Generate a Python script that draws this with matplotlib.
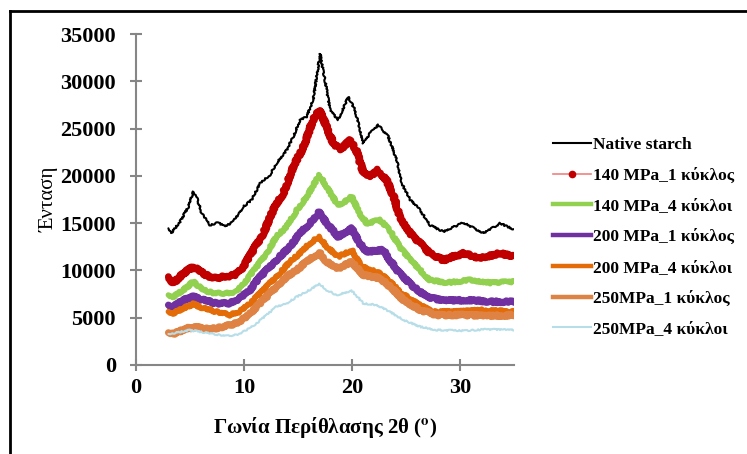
import matplotlib
matplotlib.use("Agg")
import matplotlib.pyplot as plt
from matplotlib.lines import Line2D

plt.rcParams['font.family'] = ['Liberation Serif', 'DejaVu Serif']
plt.rcParams['mathtext.fontset'] = 'stix'

labels = ["Native starch", "140 MPa_1 κύκλος", "140 MPa_4 κύκλοι", "200 MPa_1 κύκλος",
          "200 MPa_4 κύκλοι", "250MPa_1 κύκλος", "250MPa_4 κύκλοι"]

native_x = [3.0, 3.3, 4.07, 4.85, 5.3, 5.6, 6.08, 6.85, 7.6, 8.24, 9.0, 9.94, 10.7, 11.5, 12.4, 13.0,
            13.95, 14.56, 15.19, 15.8, 16.4, 17.04, 17.5, 17.96, 18.7, 19.66, 20.28, 21.05, 21.67,
            22.44, 23.36, 24.14, 24.6, 25.4, 26.3, 27.2, 28.45, 30.3, 32.2, 33.7, 35.0]
native_y = [14455, 13990, 15150, 16740, 18330, 17800, 16040, 14800, 15050, 14630, 15150, 16740, 17450,
            19210, 20090, 21330, 22730, 24140, 25910, 26260, 28020, 32890, 30140, 26960, 25910, 28370,
            26960, 23440, 24500, 25380, 24140, 21680, 19210, 17450, 16400, 14800, 14100, 15050, 13930,
            14980, 14340]

r140_1_x = [3.0, 3.45, 4.38, 5.3, 6.23, 7.16, 8.24, 9.17, 9.94, 10.86, 11.8, 12.7, 13.64, 14.56, 15.5,
            16.4, 16.98, 17.65, 18.2, 18.9, 19.8, 20.4, 21.05, 21.67, 22.4, 23.2, 23.98, 24.4, 25.4,
            26.3, 27.2, 28.45, 30.3, 31.85, 33.7, 35.0]
r140_1_y = [9340, 8640, 9690, 10390, 9690, 9160, 9340, 9520, 10390, 12160, 13930, 16390, 18150, 20970,
            23080, 25910, 26960, 25200, 23600, 22730, 23790, 22730, 20270, 19910, 20620, 19560, 17450,
            15680, 13930, 12870, 11810, 11100, 11810, 11280, 11810, 11450]

r140_4_x = [3.0, 3.45, 4.38, 5.3, 6.23, 7.3, 8.4, 9.3, 10.25, 11.17, 12.1, 13.0, 13.95, 14.9, 15.8,
            16.98, 17.65, 18.58, 18.9, 19.97, 20.7, 21.36, 22.6, 23.5, 24.4, 25.4, 26.3, 27.2, 28.8,
            30.9, 32.8, 35.0]
r140_4_y = [7400, 7220, 7930, 8810, 7930, 7580, 7580, 7750, 8990, 10390, 11810, 13570, 14620, 16390,
            17800, 20090, 18850, 17100, 16920, 17800, 16040, 14980, 15330, 14270, 12510, 11100, 10050,
            8990, 8700, 8990, 8700, 8810]

r200_1_x = [3.0, 3.45, 4.38, 5.3, 6.23, 7.47, 8.7, 9.6, 10.55, 11.5, 12.4, 13.3, 14.26, 15.19, 16.1,
            16.98, 17.65, 18.73, 19.97, 20.7, 21.36, 22.9, 23.5, 24.4, 25.7, 26.9, 28.45, 30.9, 32.8,
            35.0]
r200_1_y = [6340, 6160, 6870, 7220, 6870, 6520, 6520, 7050, 7930, 9340, 10390, 11450, 12510, 13930,
            14980, 16210, 14980, 13570, 14450, 12870, 11980, 12160, 11100, 9690, 8280, 7220, 6800,
            6870, 6690, 6690]

r200_4_x = [3.0, 3.45, 4.38, 5.3, 6.23, 7.47, 8.7, 9.6, 10.55, 11.5, 12.4, 13.3, 14.26, 15.19, 16.1,
            16.98, 17.65, 18.73, 19.97, 20.9, 22.6, 23.5, 24.6, 26.0, 27.5, 29.7, 32.2, 35.0]
r200_4_y = [5640, 5470, 6000, 6450, 6000, 5640, 5290, 5640, 6520, 7580, 8640, 9690, 10920, 11810,
            12870, 13570, 12510, 11450, 12160, 10390, 9690, 8810, 7580, 6520, 5640, 5640, 5820, 5640]

r250_1_x = [3.0, 3.6, 4.7, 5.6, 6.85, 8.1, 9.3, 10.25, 11.17, 12.1, 13.0, 13.95, 14.9, 15.8, 16.98,
            17.65, 18.73, 19.97, 21.05, 22.6, 23.7, 24.75, 26.3, 27.8, 30.3, 32.5, 35.0]
r250_1_y = [3420, 3350, 3880, 3980, 3770, 4050, 4410, 5110, 6160, 7220, 8280, 9340, 10050, 10920,
            11880, 10920, 10220, 10920, 9520, 9160, 8110, 6870, 5820, 5290, 5290, 5180, 5290]

r250_4_x = [3.0, 3.77, 5.0, 5.93, 7.16, 8.4, 9.3, 10.25, 11.17, 12.1, 13.0, 13.95, 14.9, 15.8, 16.98,
            17.65, 18.58, 19.97, 21.05, 22.3, 23.5, 24.75, 26.3, 27.8, 30.3, 32.5, 35.0]
r250_4_y = [3280, 3420, 3700, 3520, 3280, 3070, 3170, 3700, 4410, 5290, 6160, 6520, 7220, 7750, 8560,
            7930, 7400, 7860, 6520, 6340, 5640, 4760, 4050, 3700, 3630, 3770, 3700]

x_ticks = [0, 10, 20, 30]
y_ticks = [0, 5000, 10000, 15000, 20000, 25000, 30000, 35000]

fig = plt.figure(figsize=(7.47, 4.54), dpi=100)
ax = fig.add_axes([136 / 747, (454 - 365) / 454, 378 / 747, 331 / 454])

series = [
    (native_x, native_y, '#000000', 1.5, 0.8),
    (r140_1_x, r140_1_y, '#C00000', 5.0, 1.2),
    (r140_4_x, r140_4_y, '#92D050', 4.0, 1.0),
    (r200_1_x, r200_1_y, '#7030A0', 5.0, 1.0),
    (r200_4_x, r200_4_y, '#E36C09', 4.0, 1.0),
    (r250_1_x, r250_1_y, '#DE8344', 5.0, 1.0),
    (r250_4_x, r250_4_y, '#B7DEE8', 1.5, 0.7),
]
handles = []
for (xs, ys, col, lw, sk), lab in zip(series, labels):
    ln, = ax.plot(xs, ys, color=col, lw=lw, solid_joinstyle='round', solid_capstyle='round')
    ln.set_sketch_params(scale=sk, length=2.5, randomness=6)
    handles.append(Line2D([], [], color=col, lw=3.2 if lw > 2 else 1.5))
handles[1] = Line2D([], [], color='#F08080', lw=1.2, marker='o', ms=4.5,
                    markerfacecolor='#C00000', markeredgecolor='#C00000')

ax.set_xlim(0, 35)
ax.set_ylim(0, 35000)
ax.set_xticks(x_ticks)
ax.set_yticks(y_ticks)
ax.set_xticklabels([str(t) for t in x_ticks])
ax.set_yticklabels([str(t) for t in y_ticks])
for s in ['top', 'right']:
    ax.spines[s].set_visible(False)
for s in ['left', 'bottom']:
    ax.spines[s].set_color('#868686')
    ax.spines[s].set_linewidth(1.5)
ax.tick_params(direction='inout', length=9, width=1.5, color='#868686',
               labelsize=16)
ax.tick_params(axis='y', pad=10)
ax.tick_params(axis='x', pad=5)
for t in ax.get_xticklabels() + ax.get_yticklabels():
    t.set_fontweight('bold')

ax.set_ylabel('Ένταση', fontsize=15, labelpad=1)
ax.set_xlabel(r'Γωνία Περίθλασης 2θ ($^{\mathbf{o}}$)', fontsize=15, fontweight='bold', labelpad=12)

leg = ax.legend(handles, labels, loc='upper left', bbox_to_anchor=(546 / 747, 1 - 130 / 454),
                bbox_transform=fig.transFigure, frameon=False, prop={'size': 12.5, 'weight': 'bold'},
                handlelength=2.2, handletextpad=0.1, labelspacing=0.84, borderaxespad=0)

fig.add_artist(Line2D([10 / 747, 1], [1 - 11 / 454, 1 - 11 / 454], color='black', lw=2,
                      transform=fig.transFigure))
fig.add_artist(Line2D([10 / 747, 10 / 747], [0, 1 - 11 / 454], color='black', lw=2,
                      transform=fig.transFigure))

fig.savefig('out.png', dpi=100)
